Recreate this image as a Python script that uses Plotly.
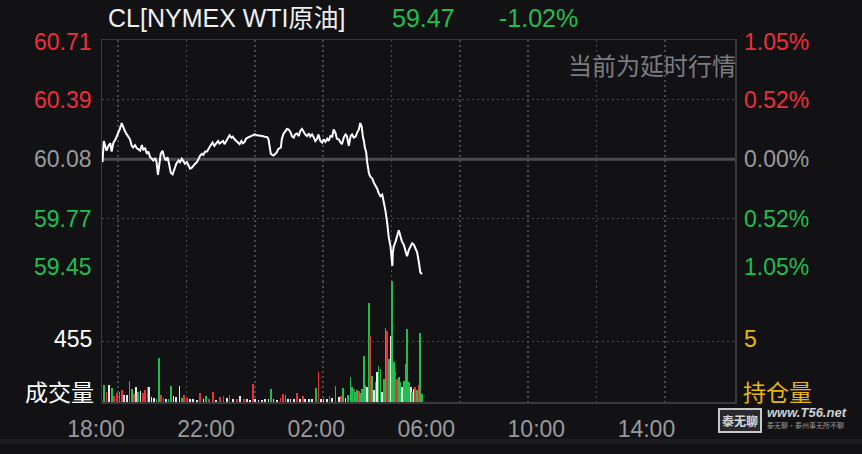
import plotly.graph_objects as go

# ---------------- data ----------------
# minutes since 18:00 (session 18:00 -> 17:00 next day)
price_time = [
    1, 4, 7, 10, 14, 18, 21, 25, 30, 36,
    39, 43, 47, 50, 54, 58, 61, 65, 68, 72,
    76, 79, 83, 87, 90, 94, 98, 101, 105, 109,
    112, 116, 119, 122, 125, 128, 132, 135, 139, 143,
    146, 150, 154, 157, 162, 167, 170, 174, 178, 181,
    185, 189, 192, 196, 199, 203, 207, 210, 214, 218,
    221, 225, 229, 234, 238, 241, 245, 249, 253, 256,
    260, 264, 267, 271, 274, 278, 282, 285, 289, 293,
    296, 300, 304, 307, 311, 314, 318, 322, 327, 333,
    338, 344, 349, 355, 360, 363, 365, 368, 371, 374,
    378, 381, 384, 387, 390, 392, 396, 400, 403, 407,
    411, 414, 418, 421, 425, 429, 432, 436, 440, 443,
    447, 451, 454, 458, 462, 465, 469, 472, 476, 480,
    483, 487, 491, 494, 498, 502, 505, 509, 512, 516,
    520, 523, 527, 531, 534, 538, 542, 545, 549, 553,
    556, 560, 563, 566, 569, 571, 573, 576, 578, 580,
    582, 585, 589, 593, 596, 600, 603, 607, 611, 614,
    617, 618, 622, 625, 629, 631, 633, 634, 636, 640,
    643, 647, 651, 654, 658, 662, 665, 669, 673, 676,
    680, 684, 687, 691, 694, 698,
]
price = [
    60.064, 60.176, 60.150, 60.125, 60.150, 60.164, 60.120, 60.168, 60.188, 60.219,
    60.240, 60.271, 60.245, 60.228, 60.211, 60.199, 60.185, 60.150, 60.142, 60.154,
    60.137, 60.133, 60.125, 60.154, 60.130, 60.137, 60.108, 60.120, 60.090, 60.082,
    60.073, 60.085, 60.064, 59.996, 60.068, 60.108, 60.125, 60.095, 60.073, 60.090,
    60.056, 60.008, 60.000, 60.022, 60.056, 60.073, 60.064, 60.082, 60.068, 60.056,
    60.064, 60.047, 60.030, 60.035, 60.047, 60.056, 60.064, 60.082, 60.099, 60.108,
    60.102, 60.120, 60.120, 60.142, 60.159, 60.168, 60.150, 60.164, 60.176, 60.163,
    60.171, 60.176, 60.159, 60.176, 60.194, 60.206, 60.194, 60.199, 60.185, 60.176,
    60.171, 60.159, 60.176, 60.164, 60.171, 60.188, 60.194, 60.199, 60.206, 60.211,
    60.206, 60.202, 60.202, 60.199, 60.197, 60.185, 60.150, 60.108, 60.102, 60.099,
    60.108, 60.116, 60.133, 60.137, 60.142, 60.185, 60.216, 60.228, 60.240, 60.237,
    60.223, 60.202, 60.194, 60.211, 60.216, 60.202, 60.228, 60.240, 60.219, 60.211,
    60.202, 60.216, 60.199, 60.211, 60.194, 60.176, 60.188, 60.211, 60.176, 60.168,
    60.185, 60.171, 60.188, 60.176, 60.202, 60.199, 60.237, 60.219, 60.188, 60.185,
    60.168, 60.159, 60.194, 60.211, 60.202, 60.150, 60.202, 60.211, 60.194, 60.199,
    60.219, 60.237, 60.271, 60.254, 60.194, 60.176, 60.142, 60.116, 60.065, 60.030,
    60.004, 59.987, 59.978, 59.953, 59.941, 59.923, 59.901, 59.884, 59.892, 59.858,
    59.832, 59.806, 59.737, 59.669, 59.617, 59.565, 59.514, 59.583, 59.617, 59.643,
    59.669, 59.703, 59.669, 59.643, 59.626, 59.583, 59.565, 59.600, 59.617, 59.634,
    59.626, 59.600, 59.586, 59.531, 59.479, 59.471,
]

vol_time = [
    4, 10, 16, 21, 26, 32, 38, 43, 48, 54,
    60, 65, 70, 74, 79, 84, 89, 94, 99, 103,
    108, 114, 119, 125, 129, 134, 140, 145, 151, 156,
    161, 169, 174, 178, 185, 192, 199, 207, 214, 221,
    227, 234, 242, 249, 258, 265, 272, 278, 285, 294,
    301, 309, 316, 323, 329, 334, 341, 349, 356, 363,
    369, 374, 381, 389, 395, 400, 405, 411, 418, 425,
    432, 438, 443, 451, 458, 467, 472, 478, 483, 491,
    496, 502, 509, 516, 521, 526, 531, 536, 542, 545,
    549, 552, 556, 560, 563, 567, 571, 574, 578, 582,
    585, 589, 593, 596, 600, 603, 607, 611, 614, 618,
    622, 625, 629, 633, 636, 640, 643, 647, 651, 654,
    658, 662, 665, 669, 673, 676, 680, 683, 687, 691,
    694, 698,
]
volume = [
    131, 74, 129, 104, 45, 69, 74, 87, 50, 55,
    154, 99, 62, 109, 74, 79, 69, 87, 116, 111,
    37, 30, 25, 327, 55, 30, 25, 20, 119, 45,
    37, 119, 30, 55, 30, 20, 20, 17, 69, 25,
    45, 25, 74, 17, 37, 42, 30, 50, 25, 25,
    45, 20, 25, 17, 136, 25, 17, 17, 20, 20,
    99, 25, 17, 30, 62, 55, 25, 20, 20, 69,
    20, 45, 25, 20, 20, 104, 223, 25, 25, 20,
    45, 30, 119, 37, 45, 104, 30, 55, 186, 111,
    94, 74, 87, 79, 69, 99, 341, 124, 111, 742,
    495, 198, 87, 148, 223, 272, 247, 74, 173, 557,
    532, 322, 495, 910, 297, 235, 173, 186, 148, 111,
    161, 285, 544, 148, 111, 74, 99, 111, 87, 124,
    520, 62,
]
# g = up (green), r = down (red), w = flat (white)
vol_dir = [
    "g", "r", "w", "g", "r", "r", "g", "r", "w", "w",
    "g", "g", "r", "w", "g", "w", "r", "r", "r", "w",
    "w", "w", "g", "g", "r", "r", "w", "g", "g", "w",
    "w", "w", "g", "r", "r", "w", "w", "w", "r", "w",
    "g", "r", "r", "w", "r", "r", "w", "r", "w", "r",
    "w", "r", "w", "w", "r", "w", "w", "w", "w", "w",
    "g", "w", "w", "r", "r", "g", "w", "w", "w", "r",
    "w", "r", "w", "w", "w", "g", "r", "w", "w", "w",
    "r", "w", "g", "w", "r", "g", "w", "g", "g", "g",
    "r", "g", "g", "r", "g", "g", "g", "g", "w", "g",
    "r", "g", "w", "g", "w", "g", "g", "w", "g", "g",
    "r", "g", "w", "g", "g", "r", "r", "g", "g", "w",
    "g", "g", "g", "g", "w", "g", "w", "r", "g", "r",
    "g", "g",
]

tick_time = [0, 240, 480, 720, 960, 1200]
tick_label = ["18:00", "22:00", "02:00", "06:00", "10:00", "14:00"]
grid_time = [35, 184, 333, 482, 631, 780, 929, 1078, 1227]

prev_close = 60.08
price_levels = [60.7100, 60.3954, 60.0800, 59.7646, 59.4492]
price_labels = ["60.71", "60.39", "60.08", "59.77", "59.45"]
pct_labels = ["1.05%", "0.52%", "0.00%", "0.52%", "1.05%"]
level_dir = ["r", "r", "n", "g", "g"]
vol_mid = 455
vol_max = 910

title_text = "CL[NYMEX WTI原油]"
last_price = "59.47"
last_change = "-1.02%"

# ---------------- style ----------------
BG = "#121215"
GREEN = "#1fbf4e"
RED = "#ee2f3a"
WHITE = "#e8e8e8"
GRAYTXT = "#9a9a9e"
YELLOW = "#e8b70c"
BORDER = "#3a3a3d"
GRID = "#4a4a4e"
FONT = "Liberation Sans, Noto Sans CJK SC, sans-serif"
COLORS = {"g": GREEN, "r": RED, "w": WHITE, "n": GRAYTXT}

L, R, T, B = 102, 127, 40, 43
W, H = 862, 454
PW, PH = W - L - R, H - T - B
VOL_TOP = (411 - 286.5) / PH


def px(xp):
    return (xp - L) / PW


def py(yp):
    return (H - B - yp) / PH


fig = go.Figure()
fig.add_trace(go.Bar(
    x=vol_time, y=volume, width=3.8,
    marker=dict(color=[COLORS[c] for c in vol_dir], line=dict(width=0)),
    xaxis="x", yaxis="y", hoverinfo="skip",
))
fig.add_trace(go.Scatter(
    x=price_time, y=price, mode="lines",
    line=dict(color="#ffffff", width=2),
    xaxis="x2", yaxis="y2", hoverinfo="skip",
))

minor_grid = dict(tickmode="array", tickvals=grid_time, showgrid=True,
                  gridcolor=GRID, griddash="2px,3px", gridwidth=1.5, ticks="")

fig.update_layout(
    width=W, height=H, margin=dict(l=L, r=R, t=T, b=B),
    paper_bgcolor=BG, plot_bgcolor=BG, showlegend=False, hovermode=False,
    font=dict(family=FONT, color=GRAYTXT, size=23),
    bargap=0,
    xaxis=dict(domain=[0, 1], range=[0, 1380], anchor="y",
               tickmode="array", tickvals=tick_time, ticktext=tick_label,
               showgrid=False, zeroline=False, showline=True,
               linecolor=BORDER, linewidth=1.5, ticks="",
               ticklabelshift=-6, ticklabelstandoff=6,
               tickfont=dict(size=23, color=GRAYTXT, family=FONT),
               minor=minor_grid),
    xaxis2=dict(domain=[0, 1], range=[0, 1380], anchor="y2", matches="x",
                showticklabels=False, showgrid=False, zeroline=False,
                showline=True, side="top", linecolor=BORDER, linewidth=1.5,
                ticks="", minor=minor_grid),
    yaxis=dict(domain=[0, VOL_TOP], range=[0, vol_max],
               tickmode="array", tickvals=[vol_mid, vol_max],
               showticklabels=False, showgrid=True, gridcolor=GRID,
               griddash="2px,3px", gridwidth=1.5, zeroline=False,
               showline=True, mirror=True, linecolor=BORDER, linewidth=1.5, ticks=""),
    yaxis2=dict(domain=[VOL_TOP, 1], range=[59.437, 60.711],
                tickmode="array", tickvals=[price_levels[1], price_levels[3]],
                showticklabels=False, showgrid=True, gridcolor=GRID,
                griddash="2px,3px", gridwidth=1.5, zeroline=False,
                showline=True, mirror=True, linecolor=BORDER, linewidth=1.5, ticks=""),
)

shapes = [
    dict(type="line", xref="paper", x0=0, x1=1, yref="y2", y0=prev_close, y1=prev_close,
         line=dict(color="#4b4b4f", width=3), layer="below"),
    dict(type="rect", xref="paper", yref="paper", x0=px(0), x1=px(W), y0=py(H), y1=py(449),
         fillcolor="#1d1d21", line=dict(width=0), layer="below"),
]
fig.update_layout(shapes=shapes)

ann = []
for i, (lv, lab, pct, d) in enumerate(zip(price_levels, price_labels, pct_labels, level_dir)):
    ys = 11 if i == len(price_levels) - 1 else (-2 if i == 0 else 0)
    ann.append(dict(x=0, xref="paper", y=lv, yref="y2", text=lab, showarrow=False,
                    xanchor="right", yanchor="middle", xshift=-8, yshift=ys,
                    font=dict(size=23, color=COLORS[d], family=FONT)))
    ann.append(dict(x=1, xref="paper", y=lv, yref="y2", text=pct, showarrow=False,
                    xanchor="left", yanchor="middle", xshift=7, yshift=ys,
                    font=dict(size=23, color=COLORS[d], family=FONT)))

ann += [
    dict(x=0, xref="paper", y=vol_mid, yref="y", text=str(vol_mid), showarrow=False,
         xanchor="right", yanchor="middle", xshift=-8, yshift=2,
         font=dict(size=23, color="#ffffff", family=FONT)),
    dict(x=1, xref="paper", y=vol_mid, yref="y", text="5", showarrow=False,
         xanchor="left", yanchor="middle", xshift=7, yshift=2,
         font=dict(size=23, color=YELLOW, family=FONT)),
    dict(x=0, xref="paper", y=py(402), yref="paper", text="成交量", showarrow=False,
         xanchor="right", yanchor="middle", xshift=-6,
         font=dict(size=23, color="#ffffff", family=FONT)),
    dict(x=1, xref="paper", y=py(402), yref="paper", text="持仓量", showarrow=False,
         xanchor="left", yanchor="middle", xshift=6,
         font=dict(size=23, color=YELLOW, family=FONT)),
    dict(x=px(106), xref="paper", y=py(17), yref="paper", text=title_text, showarrow=False,
         xanchor="left", yanchor="middle",
         font=dict(size=25, color="#f0f0f0", family=FONT)),
    dict(x=px(390), xref="paper", y=py(17), yref="paper", text=last_price, showarrow=False,
         xanchor="left", yanchor="middle",
         font=dict(size=25, color=GREEN, family=FONT)),
    dict(x=px(497), xref="paper", y=py(17), yref="paper", text=last_change, showarrow=False,
         xanchor="left", yanchor="middle",
         font=dict(size=25, color=GREEN, family=FONT)),
    dict(x=px(738), xref="paper", y=py(65), yref="paper", text="当前为延时行情", showarrow=False,
         xanchor="right", yanchor="middle",
         font=dict(size=24, color="#7c7c80", family="Noto Sans CJK SC, sans-serif")),
    dict(x=px(740), xref="paper", y=py(430), yref="paper", text="<b>泰无聊</b>", showarrow=False,
         xanchor="center", yanchor="middle", bordercolor="#c8c8c8", borderwidth=2, borderpad=2,
         bgcolor="#2a2a2e",
         font=dict(size=12, color="#d8d8d8", family="Noto Sans CJK SC, sans-serif")),
    dict(x=px(765), xref="paper", y=py(422), yref="paper", text="<b><i>www.T56.net</i></b>",
         showarrow=False, xanchor="left", yanchor="middle",
         font=dict(size=13, color="#d0d0d0", family=FONT)),
    dict(x=px(765), xref="paper", y=py(435), yref="paper", text="泰无聊·泰州事无所不聊",
         showarrow=False, xanchor="left", yanchor="middle",
         font=dict(size=7, color="#9a9a9a", family="Noto Sans CJK SC, sans-serif")),
]
fig.update_layout(annotations=ann)

fig.write_html(
    "out.html",
    config={"displayModeBar": False, "staticPlot": True},
    post_script=(
        "document.documentElement.style.margin='0';"
        "document.documentElement.style.overflow='hidden';"
        "document.body.style.margin='0';"
        "document.body.style.overflow='hidden';"
        "document.body.style.background='#121215';"
    ),
)
